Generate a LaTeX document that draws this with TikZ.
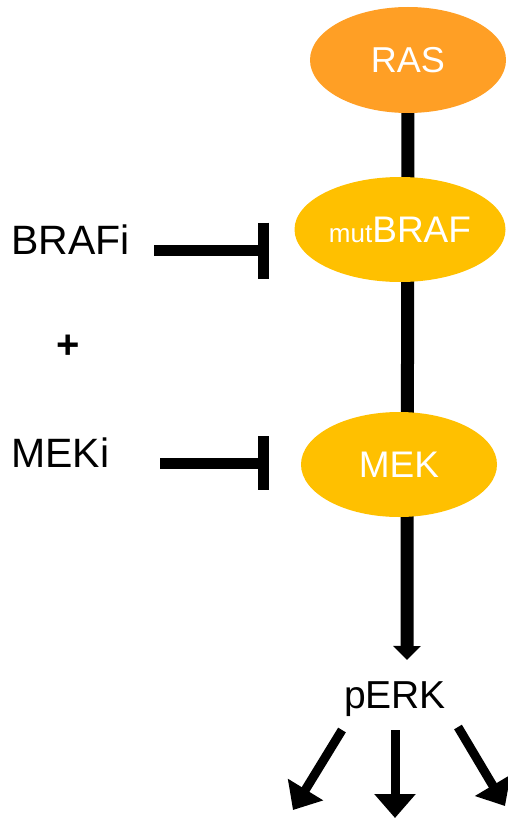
\documentclass[tikz,border=0pt]{standalone}
\usepackage{fontspec}
\setmainfont{Liberation Sans}
\usetikzlibrary{arrows.meta,shapes.geometric,backgrounds}
\definecolor{rasorange}{HTML}{FF9F25}
\definecolor{gold}{HTML}{FFC000}
\begin{document}
\begin{tikzpicture}[x=1pt,y=-1pt,
  prot/.style={ellipse, inner sep=0pt, text=white, font=\fontsize{37}{40}\selectfont},
  lbl/.style={inner sep=0pt, font=\fontsize{41}{44}\selectfont},
  inhib/.style={line width=11pt},
  mainarrow/.style={line width=13pt, -{Triangle[width=27pt,length=14pt]}},
  outarrow/.style={line width=9pt, -{Triangle[width=40pt,length=24pt]}}]
\useasboundingbox (0,0) rectangle (507,821);
% proteins
\node[prot, fill=rasorange, minimum width=196pt, minimum height=106pt,
      font=\fontsize{36}{40}\selectfont] (ras) at (408,60) {RAS};
\node[prot, fill=gold, minimum width=211pt, minimum height=105pt] (braf) at (400,229.5)
      {{\fontsize{26}{30}\selectfont mut}BRAF};
\node[prot, fill=gold, minimum width=196pt, minimum height=105pt] (mek) at (399,464.5) {MEK};
% labels
\node[lbl, anchor=base west] (brafi) at (11,254) {BRAFi};
\node[lbl, anchor=base west] (meki) at (11,467) {MEKi};
\node[lbl, font=\fontsize{40}{44}\selectfont\bfseries] (plus) at (68.5,347) {+};
\node[lbl, anchor=base, font=\fontsize{39}{42}\selectfont] (perk) at (395,708) {pERK};
% coordinates
\coordinate (tip) at (407,660);
\coordinate (bstart) at (154,250.5);
\coordinate (bbar) at (263.5,250.5);
\coordinate (mstart) at (160,463);
\coordinate (mbar) at (263.5,463);
\coordinate (l1) at (342,730);
\coordinate (l2) at (293,810);
\coordinate (c1) at (395,730);
\coordinate (c2) at (395,818);
\coordinate (r1) at (458,727);
\coordinate (r2) at (505,806);
% main axis behind the ellipses
\begin{scope}[on background layer]
\draw[mainarrow] (ras.center) -- (tip);
\end{scope}
% inhibitions
\draw[inhib] (bstart) -- (bbar);
\draw[inhib] ([yshift=28pt]bbar) -- ([yshift=-28pt]bbar);
\draw[inhib] (mstart) -- (mbar);
\draw[inhib] ([yshift=27pt]mbar) -- ([yshift=-27pt]mbar);
% outputs
\draw[outarrow] (l1) -- (l2);
\draw[outarrow] (c1) -- (c2);
\draw[outarrow] (r1) -- (r2);
\end{tikzpicture}
\end{document}
